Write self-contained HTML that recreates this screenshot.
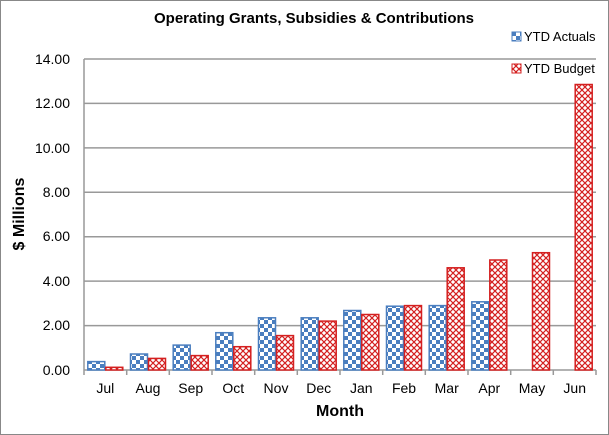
<!DOCTYPE html><html><head><style>body{margin:0}svg{display:block}text{font-family:"Liberation Sans",sans-serif}</style></head><body>
<svg width="609" height="435" xmlns="http://www.w3.org/2000/svg">
<defs>
<pattern id="chk" width="8" height="8" patternUnits="userSpaceOnUse"><rect width="8" height="8" fill="#fff"/><rect width="4" height="4" fill="#4a7ebf"/><rect x="4" y="4" width="4" height="4" fill="#4a7ebf"/></pattern>
<pattern id="zz" width="6" height="6" patternUnits="userSpaceOnUse"><rect width="6" height="6" fill="#fff"/><path d="M0 0L6 6M6 0L0 6" stroke="#d42020" stroke-width="1.2" fill="none"/></pattern>
</defs>
<rect x="0.5" y="0.5" width="608" height="434" fill="#fff" stroke="#888"/>
<text x="314" y="23" text-anchor="middle" font-size="15" font-weight="bold">Operating Grants, Subsidies &amp; Contributions</text>
<g stroke="#999" stroke-width="1.5">
<line x1="84" y1="59" x2="596" y2="59"/><line x1="84" y1="103.4" x2="596" y2="103.4"/><line x1="84" y1="147.9" x2="596" y2="147.9"/><line x1="84" y1="192.3" x2="596" y2="192.3"/><line x1="84" y1="236.7" x2="596" y2="236.7"/><line x1="84" y1="281.1" x2="596" y2="281.1"/><line x1="84" y1="325.6" x2="596" y2="325.6"/><line x1="84" y1="370" x2="596" y2="370"/>
<line x1="84" y1="59" x2="84" y2="375"/>
<line x1="126.7" y1="370" x2="126.7" y2="375"/><line x1="169.3" y1="370" x2="169.3" y2="375"/><line x1="212" y1="370" x2="212" y2="375"/><line x1="254.7" y1="370" x2="254.7" y2="375"/><line x1="297.3" y1="370" x2="297.3" y2="375"/><line x1="340" y1="370" x2="340" y2="375"/><line x1="382.7" y1="370" x2="382.7" y2="375"/><line x1="425.3" y1="370" x2="425.3" y2="375"/><line x1="468" y1="370" x2="468" y2="375"/><line x1="510.7" y1="370" x2="510.7" y2="375"/><line x1="553.3" y1="370" x2="553.3" y2="375"/><line x1="596" y1="370" x2="596" y2="375"/>
</g>
<g font-size="14" text-anchor="end"><text x="70" y="64">14.00</text><text x="70" y="108">12.00</text><text x="70" y="153">10.00</text><text x="70" y="197">8.00</text><text x="70" y="241">6.00</text><text x="70" y="286">4.00</text><text x="70" y="330">2.00</text><text x="70" y="375">0.00</text></g>
<text transform="translate(24 214) rotate(-90)" text-anchor="middle" font-size="16" font-weight="bold">$ Millions</text>
<text x="340" y="416" text-anchor="middle" font-size="16" font-weight="bold">Month</text>
<g fill="url(#chk)" stroke="#4a7ebf" stroke-width="1.5">
<rect x="87.8" y="361.6" width="17" height="8.4"/>
<rect x="130.5" y="354" width="17" height="16"/>
<rect x="173.2" y="345.1" width="17" height="24.9"/>
<rect x="215.8" y="332.7" width="17" height="37.3"/>
<rect x="258.5" y="317.8" width="17" height="52.2"/>
<rect x="301.2" y="317.8" width="17" height="52.2"/>
<rect x="343.8" y="310.5" width="17" height="59.5"/>
<rect x="386.5" y="306.2" width="17" height="63.8"/>
<rect x="429.2" y="305.6" width="17" height="64.4"/>
<rect x="471.8" y="301.8" width="17" height="68.2"/>
</g>
<g fill="url(#zz)" stroke="#d42020" stroke-width="1.5">
<rect x="105.8" y="367.3" width="17" height="2.7"/>
<rect x="148.5" y="358.4" width="17" height="11.6"/>
<rect x="191.2" y="355.6" width="17" height="14.4"/>
<rect x="233.8" y="346.7" width="17" height="23.3"/>
<rect x="276.5" y="335.6" width="17" height="34.4"/>
<rect x="319.2" y="321.1" width="17" height="48.9"/>
<rect x="361.8" y="314.5" width="17" height="55.5"/>
<rect x="404.5" y="305.6" width="17" height="64.4"/>
<rect x="447.2" y="267.8" width="17" height="102.2"/>
<rect x="489.8" y="260" width="17" height="110"/>
<rect x="532.5" y="252.7" width="17" height="117.3"/>
<rect x="575.2" y="84.5" width="17" height="285.5"/>
</g>
<g font-size="14" text-anchor="middle">
<text x="105.3" y="393">Jul</text><text x="148" y="393">Aug</text><text x="190.7" y="393">Sep</text><text x="233.3" y="393">Oct</text><text x="276" y="393">Nov</text><text x="318.7" y="393">Dec</text><text x="361.3" y="393">Jan</text><text x="404" y="393">Feb</text><text x="446.7" y="393">Mar</text><text x="489.3" y="393">Apr</text><text x="532" y="393">May</text><text x="574.7" y="393">Jun</text>
</g>
<rect x="512" y="32" width="9" height="9" fill="url(#chk)" stroke="#4a7ebf"/><text x="524" y="41" font-size="13">YTD Actuals</text>
<rect x="512" y="64" width="9" height="9" fill="url(#zz)" stroke="#d42020"/><text x="524" y="73" font-size="13">YTD Budget</text>
</svg></body></html>
